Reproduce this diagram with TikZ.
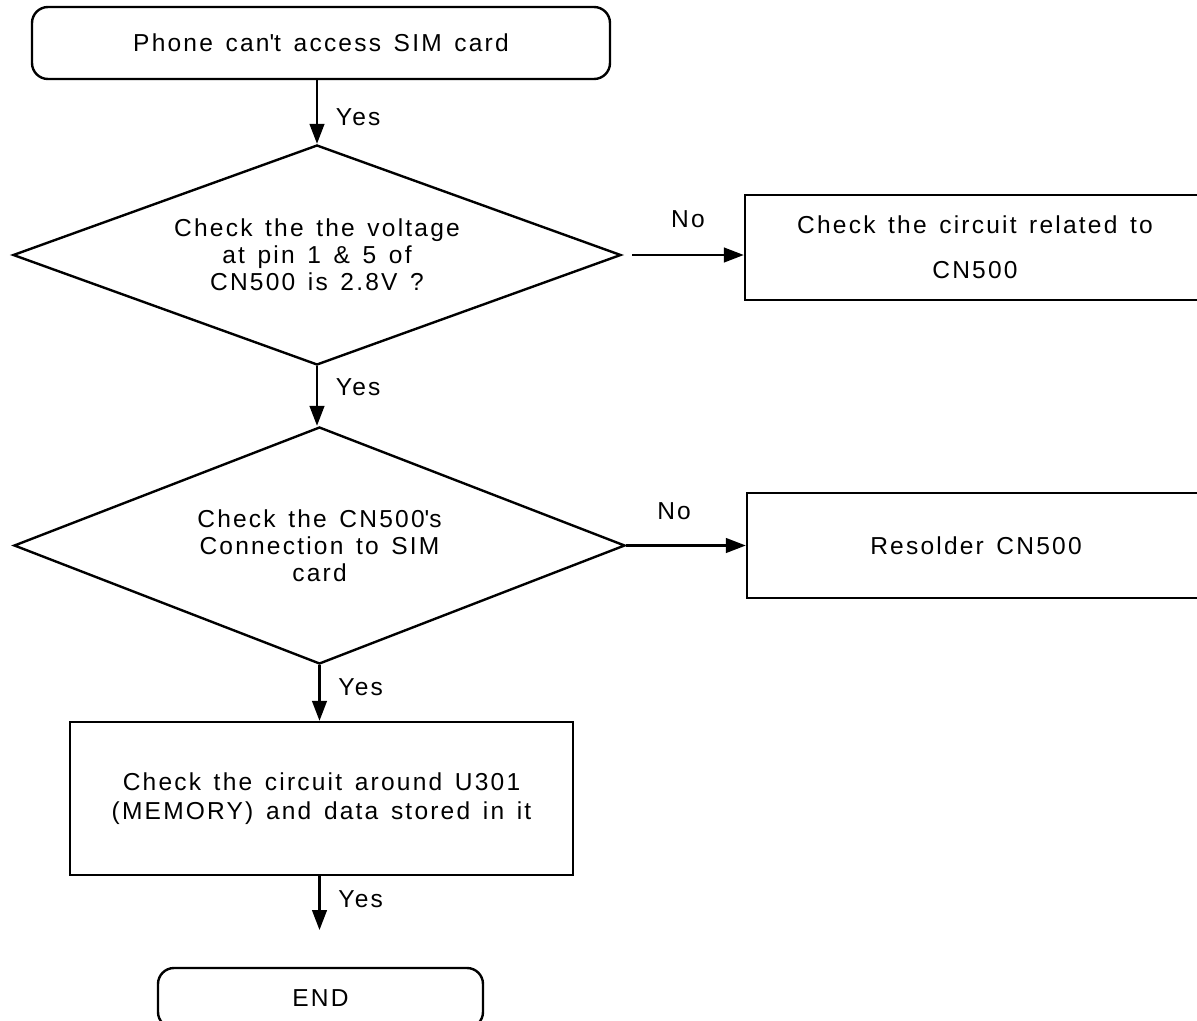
\documentclass[tikz,border=0pt]{standalone}
\usepackage{fontspec}
\setmainfont{Liberation Sans}[LetterSpace=9,WordSpace=1.4]
\usepackage{tikz}
\usetikzlibrary{arrows.meta,shapes.geometric,positioning,calc}

\begin{document}
\begin{tikzpicture}[x=0.75pt,y=-0.75pt,line width=1.8pt,
					every node/.style={font=\fontsize{18.4}{20.25}\selectfont, align=center},
					term/.style={draw, rounded corners=12pt, minimum height=#1},
					decision/.style={draw, diamond, aspect=2.8, inner sep=0pt},
					box/.style={draw, rectangle},
					flow/.style={-{Triangle[length=15pt,width=11pt]}}]
				\useasboundingbox (0,0) rectangle (1197,1021);
				\node[term=54pt, minimum width=433.5pt] (start) at (321,43) {Phone can\textquotesingle t access SIM card};
				\node[decision, minimum width=456pt, minimum height=165pt] (d1) at (317,255)
					{Check the the voltage\\at pin 1 \& 5 of\\CN500 is 2.8V ?};
				\node[box, minimum width=345pt, minimum height=78.75pt,
					font=\fontsize{18.4}{33.75}\selectfont] (r1) at (975,247.5)
					{Check the circuit related to\\CN500};
				\node[decision, minimum width=458.25pt, minimum height=177.75pt] (d2) at (319.5,545.5)
					{Check the CN500\textquotesingle s\\Connection to SIM\\card};
				\node[box, minimum width=343.5pt, minimum height=78.75pt] (r2) at (976,545.5) {Resolder CN500};
				\node[box, minimum width=377.25pt, minimum height=114.75pt,
					font=\fontsize{18.4}{21.75}\selectfont] (b3) at (321.5,798.5)
					{Check the circuit around U301\\(MEMORY) and data stored in it};
				\node[term=45pt, minimum width=243.75pt] (end) at (320.5,998) {END};
				\coordinate (tip) at (319.5,930);

				\draw[flow] (d1.north |- start.south) -- node[pos=.58, right=10pt] {Yes} (d1.north);
				\draw[flow] ([xshift=7.5pt]d1.east) -- node[pos=.5, yshift=27pt] {No} (d1.east -| r1.west);
				\draw[flow] (d1.south) -- node[pos=.35, right=10pt] {Yes} (d1.south |- d2.north);
				\draw[flow] (d2.east) -- node[pos=.4, yshift=26pt] {No} (d2.east -| r2.west);
				\draw[flow] (d2.south) -- node[pos=.4, right=10pt] {Yes} (d2.south |- b3.north);
				\draw[flow] (b3.south -| tip) -- node[pos=.42, right=10pt] {Yes} (tip);
			\end{tikzpicture}
\end{document}
